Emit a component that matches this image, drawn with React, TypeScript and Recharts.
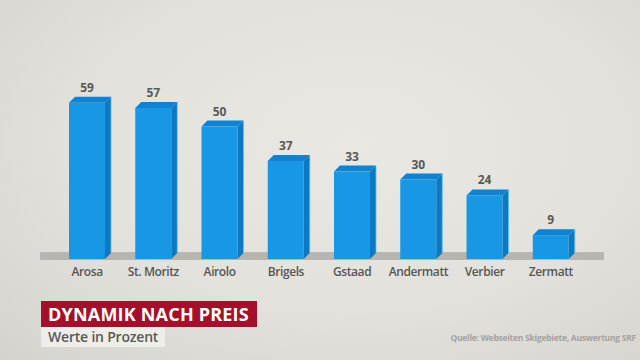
import { Bar, BarChart, LabelList, ReferenceArea, XAxis, YAxis } from "recharts"

const categories = ["Arosa", "St. Moritz", "Airolo", "Brigels", "Gstaad", "Andermatt", "Verbier", "Zermatt"]
const values = [59, 57, 50, 37, 33, 30, 24, 9]

const title = "DYNAMIK NACH PREIS"
const subtitle = "Werte in Prozent"
const source = "Quelle: Webseiten Skigebiete, Auswertung SRF"

const chartData = categories.map((name, i) => ({ name, value: values[i] }))

const DEPTH = 6
const FONT = "'Open Sans', 'DejaVu Sans', sans-serif"

// 3D box for each bar: front face, top face and right side
function Bar3D(props: any) {
  const { x, y, width, height } = props
  if (height <= 0) return null
  const d = DEPTH
  const top = `${x},${y} ${x + d},${y - d} ${x + width + d},${y - d} ${x + width},${y}`
  const side = `${x + width},${y} ${x + width + d},${y - d} ${x + width + d},${y + height - d} ${x + width},${y + height}`
  return (
    <g>
      <polygon points={side} fill="#0c79c4" />
      <line x1={x + width + d} y1={y - d} x2={x + width + d} y2={y + height - d} stroke="#5cc0f2" strokeWidth={0.8} />
      <polygon points={top} fill="#1282cf" />
      <rect x={x} y={y} width={width} height={height} fill="#1898e4" />
    </g>
  )
}

function Floor(props: any) {
  const { x, y, width, height } = props
  return <rect x={x - 14} y={y} width={width + 34} height={height + 1} fill="#b6b5b1" />
}

export default function App() {
  return (
    <div
      style={{
        position: "absolute",
        left: 0,
        top: 0,
        width: 640,
        height: 360,
        overflow: "hidden",
        fontFamily: FONT,
        background:
          "radial-gradient(ellipse at 55% 40%, #eae8e3 0%, #e3e1dc 55%, #d5d3ce 100%)",
      }}
    >
      <BarChart
        width={640}
        height={360}
        data={chartData}
        margin={{ top: 100, right: 56, bottom: 71, left: 54 }}
        barCategoryGap={0}
      >
        <XAxis
          dataKey="name"
          axisLine={false}
          tickLine={false}
          interval={0}
          height={30}
          tick={{ fill: "#575757", fontSize: 12, fontWeight: 600, fontFamily: FONT, letterSpacing: -0.4 }}
        />
        <YAxis hide domain={[0, 60]} />
        <ReferenceArea y1={0} y2={2.6} ifOverflow="visible" shape={Floor} />
        <Bar dataKey="value" barSize={36} shape={Bar3D} isAnimationActive={false}>
          <LabelList
            dataKey="value"
            position="top"
            offset={11}
            fill="#595959"
            fontSize={12}
            fontWeight={700}
            fontFamily={FONT}
          />
        </Bar>
      </BarChart>
      <div
        style={{
          position: "absolute",
          left: 41,
          top: 301,
          width: 216,
          height: 26,
          background: "#a50f2b",
          color: "#ffffff",
          fontSize: 18,
          fontWeight: 700,
          lineHeight: "26px",
          paddingLeft: 7,
          boxSizing: "border-box",
          letterSpacing: 0.2,
          whiteSpace: "nowrap",
        }}
      >
        {title}
      </div>
      <div
        style={{
          position: "absolute",
          left: 41,
          top: 327,
          width: 124,
          height: 20,
          background: "rgba(240,239,235,0.9)",
          color: "#595959",
          fontSize: 14,
          fontWeight: 600,
          lineHeight: "20px",
          paddingLeft: 7,
          boxSizing: "border-box",
          letterSpacing: -0.2,
        }}
      >
        {subtitle}
      </div>
      <div
        style={{
          position: "absolute",
          right: 4,
          top: 332,
          color: "#a3a29f",
          fontSize: 8.5,
          fontWeight: 700,
          letterSpacing: -0.25,
          whiteSpace: "nowrap",
        }}
      >
        {source}
      </div>
    </div>
  )
}
